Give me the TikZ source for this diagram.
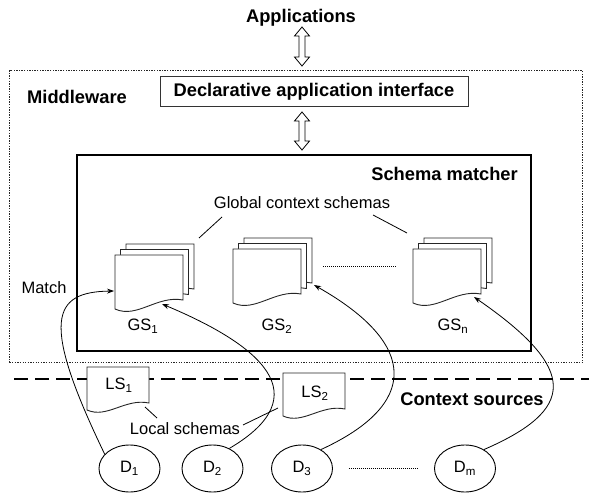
\documentclass[tikz,border=0pt]{standalone}
\usepackage{fontspec}
\setmainfont{Liberation Sans}
\usetikzlibrary{arrows.meta,calc,shapes.geometric}
\begin{document}
\begin{tikzpicture}[x=1pt,y=-1pt,
  bold/.style={font=\fontsize{18.3}{20}\selectfont\bfseries, inner sep=0pt},
  reg/.style={font=\fontsize{16.5}{19}\selectfont, inner sep=0pt},
  page/.style={draw=black!85, line width=0.9pt, fill=white},
  conn/.style={line width=0.8pt, -{Stealth[length=7pt,width=5pt]}},
  thinline/.style={line width=0.8pt},
  dotline/.style={line width=1pt, dash pattern=on 1pt off 1pt},
  mwbox/.style={draw=black!85, line width=1pt, dash pattern=on 1.3pt off 1.3pt},
  sepline/.style={line width=2pt, dash pattern=on 14pt off 7pt},
  dblarrow/.style={draw, fill=white, line width=0.8pt, line join=miter},
  src/.style={ellipse, draw, line width=0.9pt, minimum width=61pt, minimum height=47pt, inner sep=0pt, reg},
  docpage/.pic={\path[page] (0,0) -- (68,0) -- (68,45) .. controls (42,40) and (22,64) .. (0,54) -- cycle;},
  stack/.pic={
    \begin{scope}[shift={(11,-11)}]\path (0,0) pic {docpage};\end{scope}
    \begin{scope}[shift={(5.5,-5.5)}]\path (0,0) pic {docpage};\end{scope}
    \path (0,0) pic {docpage};
    \coordinate (-left) at (-1,36);
    \coordinate (-bot) at (47,49);
    \coordinate (-rside) at (81,36);
    \coordinate (-brt) at (61,48);
  },
  lsdoc/.pic={\path[page] (0,0) -- (62,0) -- (62,36) .. controls (38,31) and (20,52) .. (0,43) -- cycle;}
]
\useasboundingbox (0,0) rectangle (589,494);

% outer middleware box
\node[mwbox, minimum width=573pt, minimum height=292pt, anchor=north west, inner sep=0pt] (mw) at (9,70) {};
\node[bold] (apps) at (301,18) {Applications};
\node[bold, anchor=west] (mwlab) at (27,97) {Middleware};
\node[bold, draw=black!80, line width=1pt, minimum width=308pt, minimum height=30pt] (dai) at (314,92) {Declarative application interface};

% schema matcher box
\node[draw, line width=2.2pt, minimum width=454pt, minimum height=196pt, anchor=north west, inner sep=0pt] (sm) at (76,154) {};
\node[bold, anchor=east] (smlab) at (518,174) {Schema matcher};

% hollow double arrows
\coordinate (a1t) at (302,27);
\coordinate (a1b) at (302,66);
\coordinate (a2t) at (302,112);
\coordinate (a2b) at (302,150);
\draw[dblarrow] (a1t) -- ++(7.5,9) -- ++(-4.5,0) -- ($(a1b)+(3,-9)$) -- ++(4.5,0) -- (a1b) -- ++(-7.5,-9) -- ++(4.5,0) -- ($(a1t)+(-3,9)$) -- ++(-4.5,0) -- cycle;
\draw[dblarrow] (a2t) -- ++(7.5,9) -- ++(-4.5,0) -- ($(a2b)+(3,-9)$) -- ++(4.5,0) -- (a2b) -- ++(-7.5,-9) -- ++(4.5,0) -- ($(a2t)+(-3,9)$) -- ++(-4.5,0) -- cycle;

% global schemas
\node[reg] (gcs) at (302,203) {Global context schemas};
\coordinate (g1a) at (199,238); \coordinate (g1b) at (222,217);
\coordinate (g2a) at (373,215); \coordinate (g2b) at (407,233);
\draw[thinline] (g1a) -- (g1b);
\draw[thinline] (g2a) -- (g2b);

\pic (gs1) at (115,255) {stack};
\pic (gs2) at (233,249) {stack};
\pic (gsn) at (413,249) {stack};
\node[reg] (gs1lab) at (143,326) {GS\textsubscript{1}};
\node[reg] (gs2lab) at (277,326) {GS\textsubscript{2}};
\node[reg] (gsnlab) at (453,326) {GS\textsubscript{n}};
\coordinate (gdl) at (323,267); \coordinate (gdr) at (396,267);
\draw[dotline] (gdl) -- (gdr);

\node[reg] (match) at (44,288) {Match};

% separator
\coordinate (sl) at (14,379); \coordinate (sr) at (589,379);
\draw[sepline] (sl) -- (sr);

% local schemas
\pic (ls1) at (87,367) {lsdoc};
\pic (ls2) at (283,373) {lsdoc};
\node[reg] (ls1lab) at (119,385) {LS\textsubscript{1}};
\node[reg] (ls2lab) at (315,393) {LS\textsubscript{2}};
\node[reg] (lsch) at (185,429) {Local schemas};
\coordinate (l1a) at (145,407); \coordinate (l1b) at (157,418);
\coordinate (l2a) at (278,408); \coordinate (l2b) at (243,425);
\draw[thinline] (l1a) -- (l1b);
\draw[thinline] (l2a) -- (l2b);
\node[bold] (ctx) at (472,399) {Context sources};

% sources
\node[src] (D1) at (129.5,468.5) {D\textsubscript{1}};
\node[src] (D2) at (212.5,468.5) {D\textsubscript{2}};
\node[src] (D3) at (302,468.5) {D\textsubscript{3}};
\node[src] (Dm) at (465,468.5) {D\textsubscript{m}};
\draw[dotline] (D3.east) ++(16,0) coordinate (ddl) -- ($(Dm.west)+(-16,0)$) coordinate (ddr);

% connectors
\draw[conn] (D1.150) .. controls (40,320) and (52,292) .. (gs1-left);
\draw[conn] (D2.50) .. controls (320,395) and (260,345) .. (gs1-bot);
\draw[conn] (D3.45) .. controls (418,405) and (420,345) .. (gs2-rside);
\draw[conn] (Dm.45) .. controls (575,410) and (580,370) .. (gsn-brt);
\end{tikzpicture}
\end{document}
